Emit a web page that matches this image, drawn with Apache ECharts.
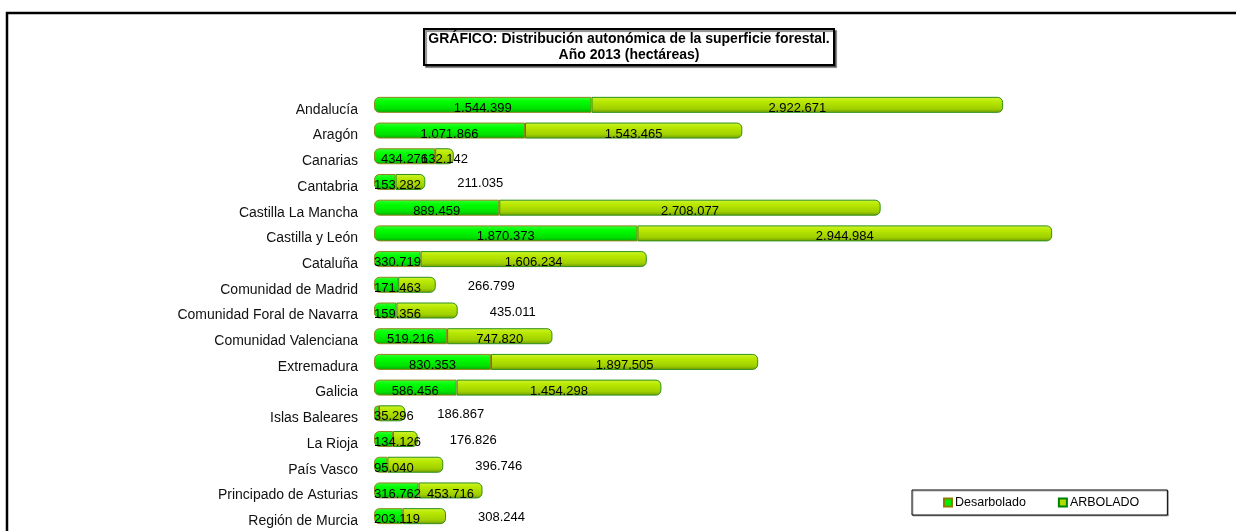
<!DOCTYPE html>
<html>
<head>
<meta charset="utf-8">
<script src="https://cdn.jsdelivr.net/npm/echarts@6/dist/echarts.min.js"></script>
<style>
html,body{margin:0;padding:0;background:#fff;}
#chart{width:1236px;height:531px;}
</style>
</head>
<body>
<div id="chart"></div>
<script>
const categories = ["Andalucía","Aragón","Canarias","Cantabria","Castilla La Mancha","Castilla y León","Cataluña","Comunidad de Madrid","Comunidad Foral de Navarra","Comunidad Valenciana","Extremadura","Galicia","Islas Baleares","La Rioja","País Vasco","Principado de Asturias","Región de Murcia"];
const desarbolado = [1544399,1071866,434276,153282,889459,1870373,330719,171463,159356,519216,830353,586456,35296,134126,95040,316762,203119];
const arbolado = [2922671,1543465,132142,211035,2708077,2944984,1606234,266799,435011,747820,1897505,1454298,186867,176826,396746,453716,308244];
const seriesNames = ["Desarbolado","ARBOLADO"];
const titleText = "GRÁFICO: Distribución autonómica de la superficie forestal.\nAño 2013 (hectáreas)";

// regions whose ARBOLADO label sits outside the bar (style choice)
const outsideLabel = ["Cantabria","Comunidad de Madrid","Comunidad Foral de Navarra","Islas Baleares","La Rioja","País Vasco","Región de Murcia"];

function fmt(v){ return String(v).replace(/\B(?=(\d{3})+(?!\d))/g, "."); }

const chart = echarts.init(document.getElementById('chart'), null, {renderer:'canvas'});
const font = "Liberation Sans, Arial, sans-serif";
const AXIS_MAX = 6000000;

const gradA = new echarts.graphic.LinearGradient(0,0,0,1,[
  {offset:0,color:'#3cff3c'},{offset:0.3,color:'#00ff00'},{offset:0.75,color:'#00e000'},{offset:1,color:'#00a800'}]);
const gradB = new echarts.graphic.LinearGradient(0,0,0,1,[
  {offset:0,color:'#d0f530'},{offset:0.3,color:'#b8e800'},{offset:0.75,color:'#a0d000'},{offset:1,color:'#6f9a00'}]);

const labelBase = {show:true, position:'inside', verticalAlign:'top', lineHeight:7, color:'#000', fontFamily:font, fontSize:13,
  formatter:p=>fmt(p.value)};

// small first segments: label anchored at bar start (like the reference)
const labelA = desarbolado.map(v => v < 350000 ? {value:v, label:{position:'insideLeft', distance:0}} : {value:v});
const labelB = arbolado.map((v,i)=>{
  const out = outsideLabel.indexOf(categories[i]) >= 0;
  return out ? {value:v, label:{position:'right', distance:32, lineHeight:3}} : {value:v};
});

const hidden = {color:'rgba(0,0,0,0)', borderWidth:0};

chart.setOption({
  animation:false,
  backgroundColor:'#fff',
  textStyle:{fontFamily:font},
  title:{
    text:titleText,
    left:624, top:29,
    textAlign:'center',
    padding:[2,5,2,5],
    borderColor:'#000', borderWidth:2,
    backgroundColor:'#fff',
    shadowColor:'rgba(0,0,0,0.45)', shadowOffsetX:2, shadowOffsetY:2, shadowBlur:1,
    textStyle:{fontFamily:font, fontSize:14, fontWeight:'bold', color:'#000', lineHeight:16}
  },
  graphic:[{
    type:'rect', z:-1, silent:true,
    shape:{x:7, y:13, width:1300, height:600},
    style:{fill:'none', stroke:'#000', lineWidth:2.5}
  }],
  legend:{
    left:912, top:490,
    padding:[6,28,6,31],
    itemGap:32,
    itemWidth:8, itemHeight:8,
    icon:'rect',
    borderColor:'#000', borderWidth:1,
    backgroundColor:'#fff',
    shadowColor:'rgba(0,0,0,0.3)', shadowOffsetX:1, shadowOffsetY:1,
    textStyle:{fontFamily:font, fontSize:12.5, color:'#000', padding:[0,0,0,-2]},
    data:[
      {name:seriesNames[0], itemStyle:{color:'#00ee00', borderColor:'#8a8000', borderWidth:2}},
      {name:seriesNames[1], itemStyle:{color:'#b0dc00', borderColor:'#008000', borderWidth:2}}
    ]
  },
  grid:{left:374, right:17, top:92, bottom:2, containLabel:false},
  xAxis:{type:'value', min:0, max:AXIS_MAX, show:false},
  yAxis:{
    type:'category', data:categories, inverse:true,
    axisLine:{show:false}, axisTick:{show:false}, splitLine:{show:false},
    axisLabel:{fontFamily:font, fontSize:14, color:'#111', margin:16, verticalAlign:'top', lineHeight:10}
  },
  series:[
    {
      name:seriesNames[0], type:'bar', stack:'t', barWidth:16, barGap:'-100%',
      data:desarbolado,
      itemStyle:{color:gradA, borderColor:'#938520', borderWidth:1, borderRadius:[5,0,0,5]},
      z:3
    },
    {
      name:seriesNames[1], type:'bar', stack:'t', barWidth:16, barGap:'-100%',
      data:arbolado,
      itemStyle:{color:gradB, borderColor:'#2f8f1a', borderWidth:1, borderRadius:[0,5,5,0]},
      z:3
    },
    {
      name:seriesNames[0], type:'bar', stack:'lbl', barWidth:16, barGap:'-100%', silent:true,
      data:labelA, itemStyle:hidden, label:labelBase, labelLayout:{hideOverlap:false}, z:10
    },
    {
      name:seriesNames[1], type:'bar', stack:'lbl', barWidth:16, barGap:'-100%', silent:true,
      data:labelB, itemStyle:hidden, label:labelBase, labelLayout:{hideOverlap:false}, z:10
    }
  ]
});
</script>
</body>
</html>
